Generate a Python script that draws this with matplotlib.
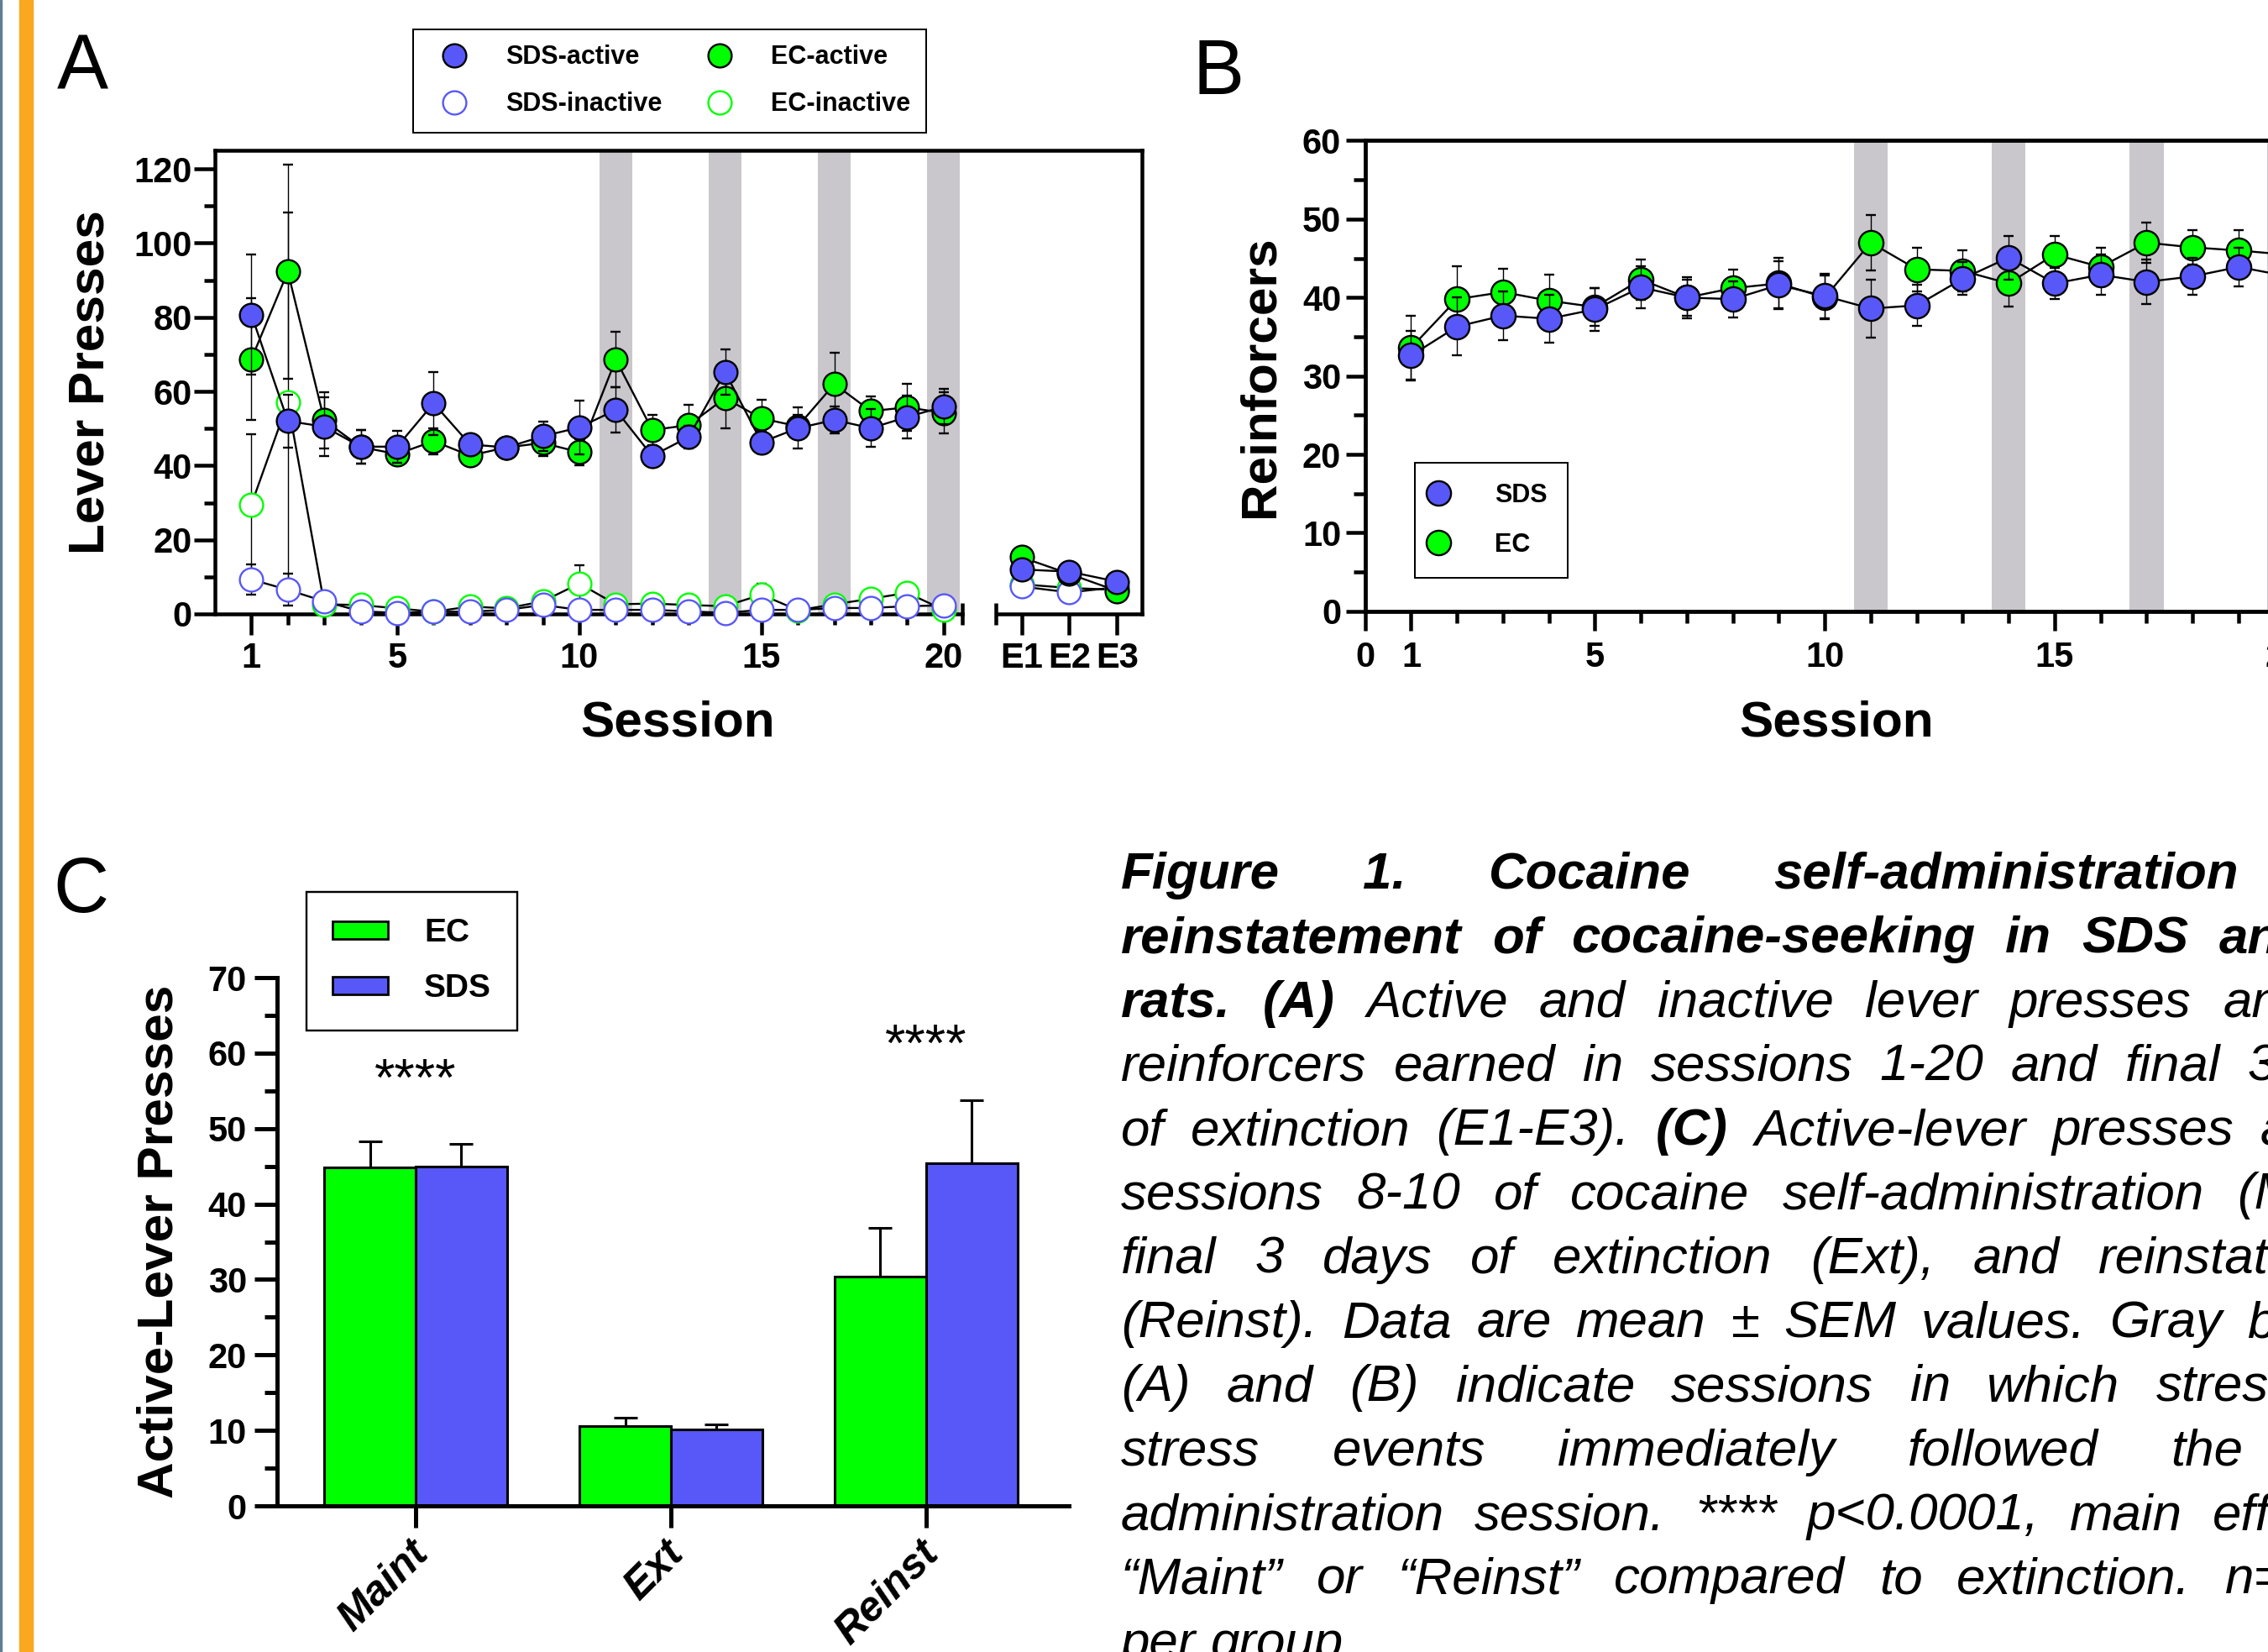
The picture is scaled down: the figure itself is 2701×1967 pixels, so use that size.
import numpy as np
import matplotlib
matplotlib.use('Agg')
import matplotlib.pyplot as plt
import matplotlib.transforms as mtransforms
from matplotlib.lines import Line2D
from matplotlib.patches import Patch, Rectangle

plt.rcParams['font.family'] = ['Liberation Sans', 'DejaVu Sans']
plt.rcParams['font.weight'] = 'bold'

# ---------------- data ----------------
sessions = np.arange(1, 21)
stress_sessions = [11, 14, 17, 20]
ext_labels = ['E1', 'E2', 'E3']

sds_active = [80.7, 52.0, 50.5, 45.1, 45.1, 56.8, 45.7, 44.9, 47.9, 50.3,
              55.0, 42.6, 47.7, 65.2, 46.3, 50.1, 52.3, 50.1, 53.1, 55.9]
sds_active_sem = [16.2, 7.1, 8.0, 4.5, 4.3, 8.5, 2.0, 1.5, 4.0, 7.2,
                  6.1, 2.0, 3.0, 6.2, 3.0, 5.5, 3.7, 5.1, 5.8, 4.8]
ec_active = [68.7, 92.3, 52.2, 45.0, 43.1, 46.6, 42.7, 44.9, 46.1, 43.6,
             68.6, 49.6, 50.9, 58.2, 52.7, 50.6, 62.0, 54.7, 55.7, 54.2]
ec_active_sem = [16.5, 28.8, 7.5, 4.5, 3.0, 3.5, 2.0, 1.5, 3.5, 3.6,
                 7.5, 4.0, 5.5, 8.1, 5.1, 3.0, 8.4, 4.0, 6.3, 5.5]
sds_inactive = [9.3, 6.5, 3.4, 0.7, 0.3, 0.6, 0.6, 1.1, 2.4, 1.1,
                1.1, 1.1, 0.7, 0.3, 1.1, 1.1, 1.6, 1.6, 2.1, 2.3]
sds_inactive_sem = [4.0, 4.3, 2.0, 0.5, 0.4, 0.5, 0.5, 0.6, 1.0, 0.6,
                    0.6, 0.6, 0.5, 0.4, 0.6, 0.6, 0.8, 0.8, 1.0, 1.0]
ec_inactive = [29.5, 57.0, 2.6, 2.4, 1.5, 0.6, 2.0, 1.5, 3.4, 8.2,
               2.6, 2.8, 2.4, 2.1, 5.2, 1.0, 2.6, 4.1, 5.7, 1.1]
ec_inactive_sem = [19.0, 51.2, 1.5, 1.2, 1.0, 0.5, 1.0, 0.8, 1.5, 5.0,
                   1.2, 1.2, 1.0, 1.0, 3.0, 0.5, 1.2, 1.5, 2.0, 0.5]

sds_active_ext = [12.0, 11.4, 8.7]
ec_active_ext = [15.3, 10.8, 6.2]
sds_inactive_ext = [7.4, 5.8, 7.2]
ec_inactive_ext = [8.0, 7.0, 6.5]
ext_sem = [1.0, 1.0, 1.0]

sds_reinf = [32.6, 36.3, 37.7, 37.3, 38.5, 41.3, 40.0, 39.8, 41.6, 40.2,
             38.6, 39.0, 42.4, 45.1, 41.8, 42.9, 42.0, 42.7, 43.9, 42.8]
sds_reinf_sem = [3.2, 3.7, 3.1, 3.0, 2.7, 2.7, 2.6, 2.3, 3.0, 2.8,
                 3.7, 2.6, 2.1, 2.8, 2.0, 2.6, 2.8, 2.4, 2.5, 2.5]
ec_reinf = [33.6, 39.8, 40.7, 39.6, 38.8, 42.3, 40.0, 41.2, 41.8, 40.0,
            47.0, 43.6, 43.4, 41.8, 45.5, 43.9, 47.0, 46.4, 46.0, 45.5]
ec_reinf_sem = [4.1, 4.2, 3.0, 3.3, 2.4, 2.6, 2.3, 2.4, 3.3, 2.8,
                3.5, 2.8, 2.6, 2.9, 2.4, 2.5, 2.6, 2.2, 2.6, 2.5]

phases = ['Maint', 'Ext', 'Reinst']
ec_bar = [44.8, 10.6, 30.4]
ec_bar_sem = [3.5, 1.1, 6.4]
sds_bar = [45.0, 10.1, 45.4]
sds_bar_sem = [3.0, 0.7, 8.3]
star_labels = ['****', '', '****']
star_y = [54.4, 0, 59.0]

caption_lines = [
    [("Figure 1. Cocaine self-administration and", True)],
    [("reinstatement of cocaine-seeking in SDS and EC", True)],
    [("rats. (A)", True), ("Active and inactive lever presses and", False), ("(B)", True)],
    [("reinforcers earned in sessions 1-20 and final 3 days", False)],
    [("of extinction (E1-E3).", False), ("(C)", True), ("Active-lever presses across", False)],
    [("sessions 8-10 of cocaine self-administration (Maint),", False)],
    [("final 3 days of extinction (Ext), and reinstatement", False)],
    [("(Reinst). Data are mean \u00b1 SEM values. Gray bars in", False)],
    [("(A) and (B) indicate sessions in which stress/non-", False)],
    [("stress events immediately followed the self-", False)],
    [("administration session. **** p<0.0001, main effect of", False)],
    [("\u201cMaint\u201d or \u201cReinst\u201d compared to extinction. n=11-12", False)],
    [("per group.", False)],
]

# ---------------- layout helpers ----------------
W, H = 2701, 1967
DPI = 100
PT = 72 / DPI

blue = '#5858F8'
green = '#00FF00'
band_gray = '#C9C7CC'


def rect(l, t, r, b):
    return [l / W, 1 - b / H, (r - l) / W, (b - t) / H]


def fx(x):
    return x / W


def fy(y):
    return 1 - y / H


def series(ax, x, y, err, face, edge, z, ms=20):
    c = ax.errorbar(x, y, yerr=err, fmt='-o', color='black', lw=1.7,
                    ms=ms, mfc=face, mec=edge, mew=1.7, ecolor='black',
                    elinewidth=1.0, capsize=4, capthick=1.0, zorder=z)
    for art in c.get_children():
        art.set_clip_on(False)


fig = plt.figure(figsize=(W / DPI, H / DPI), dpi=DPI)

fig.patches.append(Rectangle((0, 0), 2 / W, 1, transform=fig.transFigure,
                             color='#5E7E96', zorder=0))
fig.patches.append(Rectangle((fx(23), 0), 16 / W, 1, transform=fig.transFigure,
                             color='#F9A81F', zorder=0))

# ================= A =================
axA = fig.add_axes(rect(256, 179, 1359.5, 731))
axA.set_xlim(0, 25.43)
axA.set_ylim(0, 125)
for s in stress_sessions:
    axA.axvspan(s - 0.45, s + 0.45, color=band_gray, lw=0, zorder=0)

series(axA, sessions, ec_inactive, ec_inactive_sem, 'white', green, 3)
series(axA, sessions, sds_inactive, sds_inactive_sem, 'white', blue, 4)
series(axA, sessions, ec_active, ec_active_sem, green, 'black', 5)
series(axA, sessions, sds_active, sds_active_sem, blue, 'black', 6)

axA.set_xticks([1, 5, 10, 15, 20])
axA.set_xticks([s for s in sessions if s not in (1, 5, 10, 15, 20)], minor=True)
axA.set_yticks(np.arange(0, 121, 20))
axA.set_yticks(np.arange(10, 121, 20), minor=True)
axA.tick_params(which='major', length=25 * PT, width=4.5 * PT, labelsize=30)
axA.tick_params(which='minor', length=13 * PT, width=4.5 * PT)
axA.tick_params(axis='x', pad=6)
axA.tick_params(axis='y', pad=1.5)
for sp in axA.spines.values():
    sp.set_linewidth(4.5 * PT)
axA.spines['bottom'].set_bounds(0, 20.52)

axE = fig.add_axes(rect(1186.6, 179, 1359.5, 731))
axE.set_xlim(0.475, 3.51)
axE.set_ylim(0, 125)
axE.patch.set_visible(False)
for k in ('left', 'top', 'right'):
    axE.spines[k].set_visible(False)
axE.spines['bottom'].set_linewidth(4.5 * PT)
xe = np.arange(1, 4)
series(axE, xe, ec_inactive_ext, ext_sem, 'white', green, 3)
series(axE, xe, sds_inactive_ext, ext_sem, 'white', blue, 4)
series(axE, xe, ec_active_ext, ext_sem, green, 'black', 5)
series(axE, xe, sds_active_ext, ext_sem, blue, 'black', 6)
axE.set_yticks([])
axE.set_xticks(xe)
axE.set_xticklabels(ext_labels)
axE.tick_params(which='major', length=25 * PT, width=4.5 * PT, labelsize=30, pad=6)

# axis-break end marks
axBrk = fig.add_axes(rect(256, 179, 1359.5, 731), frameon=False)
axBrk.set_xlim(axA.get_xlim())
axBrk.set_xticks([20.52, 21.44])
axBrk.set_xticklabels([])
axBrk.set_yticks([])
axBrk.tick_params(direction='inout', length=26 * PT, width=4.5 * PT)

fig.text(fx(807), fy(861), 'Session', fontsize=43.5, ha='center', va='center')
fig.text(fx(108), fy(455), 'Lever Presses', fontsize=43.5, rotation=90,
         ha='center', va='center')

handlesA = [
    Line2D([], [], marker='o', ls='none', ms=20, mfc=blue, mec='black', mew=1.7),
    Line2D([], [], marker='o', ls='none', ms=20, mfc='white', mec=blue, mew=1.7),
    Line2D([], [], marker='o', ls='none', ms=20, mfc=green, mec='black', mew=1.7),
    Line2D([], [], marker='o', ls='none', ms=20, mfc='white', mec=green, mew=1.7),
]
legA = fig.legend(handlesA, ['SDS-active', 'SDS-inactive', 'EC-active', 'EC-inactive'],
                  ncol=2, loc='upper left', bbox_to_anchor=(fx(492), fy(35)),
                  borderaxespad=0, frameon=True, fancybox=False, edgecolor='black',
                  framealpha=1, borderpad=0.6, handlelength=2.0, handletextpad=1.0,
                  columnspacing=1.25, labelspacing=0.85, numpoints=1,
                  prop={'size': 22, 'weight': 'bold'})
legA.get_frame().set_linewidth(2 * PT)

# ================= B =================
axB = fig.add_axes(rect(1625.7, 167.5, 2748, 727.9))
axB.set_xlim(0, 20.5)
axB.set_ylim(0, 60)
for s in stress_sessions:
    axB.axvspan(s - 0.37, s + 0.37, color=band_gray, lw=0, zorder=0)
series(axB, sessions, ec_reinf, ec_reinf_sem, green, 'black', 5, ms=21)
series(axB, sessions, sds_reinf, sds_reinf_sem, blue, 'black', 6, ms=21)
axB.set_xticks([0, 1, 5, 10, 15, 20])
axB.set_xticks([s for s in sessions if s not in (1, 5, 10, 15, 20)], minor=True)
axB.set_yticks(np.arange(0, 61, 10))
axB.set_yticks(np.arange(5, 60, 10), minor=True)
axB.tick_params(which='major', length=23 * PT, width=4.5 * PT, labelsize=30)
axB.tick_params(which='minor', length=14 * PT, width=4.5 * PT)
axB.tick_params(axis='x', pad=8.5)
axB.tick_params(axis='y', pad=4)
for sp in axB.spines.values():
    sp.set_linewidth(4.8 * PT)

fig.text(fx(2187), fy(861), 'Session', fontsize=43.5, ha='center', va='center')
fig.text(fx(1501), fy(448), 'Reinforcers', fontsize=43.5, rotation=90,
         ha='center', va='center')

handlesB = [
    Line2D([], [], marker='o', ls='none', ms=21, mfc=blue, mec='black', mew=1.7),
    Line2D([], [], marker='o', ls='none', ms=21, mfc=green, mec='black', mew=1.7),
]
legB = fig.legend(handlesB, ['SDS', 'EC'], loc='upper left',
                  bbox_to_anchor=(fx(1684.6), fy(551)), borderaxespad=0,
                  frameon=True, fancybox=False, edgecolor='black', framealpha=1,
                  borderpad=0.78, handlelength=0.3, handletextpad=2.05,
                  labelspacing=0.96, numpoints=1, prop={'size': 22, 'weight': 'bold'})
legB.get_frame().set_linewidth(2 * PT)

# ================= C =================
axC = fig.add_axes(rect(330, 1164, 1273, 1793))
axC.set_xlim(-0.543, 2.56)
axC.set_ylim(0, 70)
xc = np.arange(len(phases))
bw = 0.358
axC.bar(xc - bw / 2, ec_bar, bw, color=green, edgecolor='black', lw=2.2, zorder=2)
axC.bar(xc + bw / 2, sds_bar, bw, color=blue, edgecolor='black', lw=2.2, zorder=2)
axC.errorbar(xc - bw / 2, ec_bar, yerr=[np.zeros(len(phases)), ec_bar_sem], fmt='none',
             ecolor='black', elinewidth=2.2, capsize=10, capthick=2.2, zorder=1)
axC.errorbar(xc + bw / 2, sds_bar, yerr=[np.zeros(len(phases)), sds_bar_sem], fmt='none',
             ecolor='black', elinewidth=2.2, capsize=10, capthick=2.2, zorder=1)
for i, lab in enumerate(star_labels):
    if lab:
        axC.text(xc[i], star_y[i], lab, ha='center', va='baseline',
                 fontsize=45, fontweight='normal')
for k in ('top', 'right'):
    axC.spines[k].set_visible(False)
for sp in axC.spines.values():
    sp.set_linewidth(5 * PT)
axC.set_yticks(np.arange(0, 71, 10))
axC.set_yticks(np.arange(5, 70, 10), minor=True)
axC.set_xticks(xc)
axC.set_xticklabels(phases, rotation=45, ha='right', va='top',
                    rotation_mode='anchor', fontsize=36, fontstyle='italic')
axC.tick_params(axis='y', which='major', length=27 * PT, width=5 * PT,
                labelsize=30, pad=6.5)
axC.tick_params(axis='y', which='minor', length=15 * PT, width=5 * PT)
axC.tick_params(axis='x', length=26 * PT, width=5 * PT, pad=5.5)
shift = mtransforms.ScaledTranslation(-8 / DPI, 0, fig.dpi_scale_trans)
for lab in axC.get_xticklabels():
    lab.set_transform(lab.get_transform() + shift)

fig.text(fx(190), fy(1478), 'Active-Lever Presses', fontsize=43.5, rotation=90,
         ha='center', va='center')

handlesC = [Patch(facecolor=green, edgecolor='black', lw=2),
            Patch(facecolor=blue, edgecolor='black', lw=2)]
legC = fig.legend(handlesC, ['EC', 'SDS'], loc='upper left',
                  bbox_to_anchor=(fx(365), fy(1062)), borderaxespad=0,
                  frameon=True, fancybox=False, edgecolor='black', framealpha=1,
                  borderpad=0.8, handlelength=1.7, handleheight=0.45,
                  handletextpad=1.1, labelspacing=0.78,
                  prop={'size': 28, 'weight': 'bold'})
legC.get_frame().set_linewidth(2.4 * PT)

# ================= panel letters =================
fig.text(fx(68), fy(107), 'A', fontsize=66, fontweight='normal', va='baseline')
fig.text(fx(1421), fy(112), 'B', fontsize=66, fontweight='normal', va='baseline')
fig.text(fx(63), fy(1086), 'C', fontsize=66, fontweight='normal', va='baseline')

# ================= caption (justified) =================
renderer = fig.canvas.get_renderer()
cap_size = 44.6
left_px, right_px = 1335, 2874
for i, segs in enumerate(caption_lines):
    words = []
    for text, bold in segs:
        words += [(w, bold) for w in text.split(' ')]
    ypos = fy(1058 + 76.3 * i)
    arts = [fig.text(0, ypos, w, fontsize=cap_size, fontstyle='italic',
                     fontweight='bold' if b else 'normal', va='baseline')
            for w, b in words]
    widths = [a.get_window_extent(renderer).width for a in arts]
    if i == len(caption_lines) - 1:
        gap = 0.278 * cap_size / PT
    else:
        gap = (right_px - left_px - sum(widths)) / (len(words) - 1)
    x = left_px
    for a, w in zip(arts, widths):
        a.set_x(fx(x))
        x += w + gap

fig.savefig('out.png', dpi=DPI)
